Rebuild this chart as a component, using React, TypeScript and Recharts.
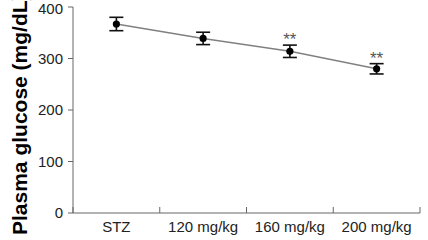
import React from 'react';
import { ComposedChart, Line, XAxis, YAxis, ErrorBar, LabelList } from 'recharts';

const groups = ['STZ', '120 mg/kg', '160 mg/kg', '200 mg/kg'];
const glucose = [367, 339, 314, 280];
const sem = [13, 12, 12, 10];
const significance = ['', '', '**', '**'];
const yTicks = [0, 100, 200, 300, 400];

const W = 428;
const H = 240;
const margin = { top: 7, right: 8, left: 0, bottom: 0 };
const Y_AXIS_W = 73;
const bandWidth = (W - margin.left - margin.right - Y_AXIS_W) / groups.length;

const data = groups.map((name, i) => ({
  name,
  glucose: glucose[i],
  sem: sem[i],
  upper: glucose[i] + sem[i],
  sig: significance[i],
}));

const FONT = '"Liberation Sans", Arial, Helvetica, sans-serif';

// group labels sit in the middle of each band, tick marks on the band edges
const GroupTick = (props: any) => {
  const { x, y, payload, index } = props;
  const left = x - bandWidth / 2;
  const right = x + bandWidth / 2;
  return (
    <g>
      <line x1={left} y1={y} x2={left} y2={y - 6} stroke="#666" strokeWidth={1} />
      {index === groups.length - 1 && (
        <line x1={right} y1={y} x2={right} y2={y - 6} stroke="#666" strokeWidth={1} />
      )}
      <text x={x} y={y + 19} textAnchor="middle" fontSize={15} fill="#222" fontFamily={FONT}>
        {payload.value}
      </text>
    </g>
  );
};

const SigLabel = (props: any) => {
  const { x, y, value } = props;
  if (!value) return null;
  return (
    <text x={x} y={y} textAnchor="middle" fontSize={17} fill="#555" fontFamily={FONT}>
      {value}
    </text>
  );
};

export default function App() {
  return (
    <div style={{ position: 'absolute', left: 0, top: 0, width: W, height: H, background: '#fff' }}>
      <ComposedChart width={W} height={H} data={data} margin={margin}>
        <XAxis
          dataKey="name"
          scale="band"
          height={27}
          axisLine={{ stroke: '#666', strokeWidth: 1 }}
          tickLine={false}
          tickSize={0}
          tickMargin={0}
          interval={0}
          tick={<GroupTick />}
        />
        <YAxis
          width={Y_AXIS_W}
          domain={[0, 400]}
          ticks={yTicks}
          axisLine={{ stroke: '#666', strokeWidth: 1 }}
          tickLine={{ stroke: '#666', strokeWidth: 1 }}
          tickSize={5}
          tickMargin={5}
          tick={{ fontSize: 15, fill: '#222', fontFamily: FONT }}
          label={{
            content: () => (
              <text
                transform="translate(27,235) rotate(-90)"
                fontSize={21}
                fontWeight="bold"
                fill="#000"
                fontFamily={FONT}
              >
                Plasma glucose (mg/dL)
              </text>
            ),
          }}
        />
        <Line
          dataKey="glucose"
          stroke="#808080"
          strokeWidth={1.5}
          isAnimationActive={false}
          dot={{ r: 3.6, fill: '#000', stroke: '#000', strokeWidth: 0 }}
          activeDot={false}
        >
          <ErrorBar dataKey="sem" width={7} strokeWidth={1.6} stroke="#111" direction="y" />
        </Line>
        <Line
          dataKey="upper"
          stroke="none"
          dot={false}
          activeDot={false}
          isAnimationActive={false}
        >
          <LabelList dataKey="sig" content={<SigLabel />} />
        </Line>
      </ComposedChart>
    </div>
  );
}
